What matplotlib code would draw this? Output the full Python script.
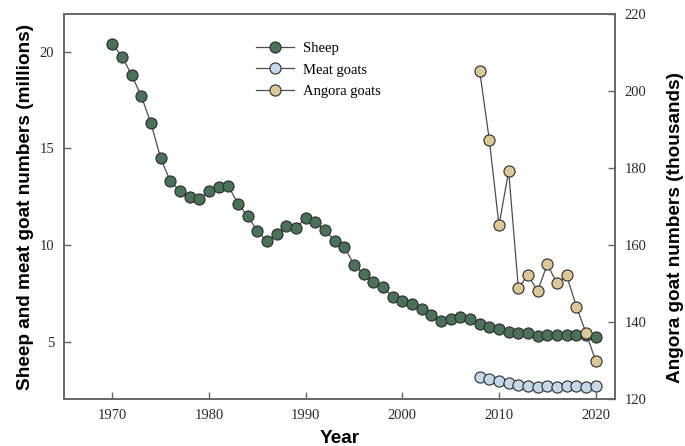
import matplotlib
matplotlib.use("Agg")
import matplotlib.pyplot as plt

years_sheep = list(range(1970, 2021))
sheep = [20.4, 19.75, 18.8, 17.7, 16.3, 14.5, 13.3, 12.8, 12.5, 12.4,
         12.8, 13.0, 13.05, 12.15, 11.5, 10.75, 10.2, 10.6, 11.0, 10.9,
         11.4, 11.2, 10.8, 10.2, 9.9, 9.0, 8.5, 8.1, 7.85, 7.3,
         7.1, 6.95, 6.68, 6.4, 6.1, 6.2, 6.28, 6.2, 5.95, 5.78,
         5.66, 5.52, 5.44, 5.44, 5.3, 5.36, 5.38, 5.38, 5.37, 5.34,
         5.27]

years_goat = list(range(2008, 2021))
meat_goats = [3.2, 3.09, 2.99, 2.89, 2.77, 2.72, 2.68, 2.71, 2.68, 2.71,
              2.71, 2.68, 2.71]
angora_goats = [205.2, 187.3, 165.1, 179.2, 148.9, 152.1, 148.1, 155.0,
                150.0, 152.1, 144.0, 137.2, 129.9]

line_col = "#4d4d4d"
spine_col = "#666666"
tick_font = {"family": "Liberation Serif", "size": 10.5}
label_font = {"family": "Liberation Sans", "size": 13.7, "weight": "bold"}
mk = dict(marker="o", markersize=8, markeredgecolor="#2b2b2b",
          markeredgewidth=0.8, color=line_col, linewidth=0.9)

fig = plt.figure(figsize=(6.85, 4.46), dpi=100)
ax = fig.add_axes([0.0934, 0.1054, 0.8044, 0.8632])
ax2 = ax.twinx()

h1, = ax.plot(years_sheep, sheep, markerfacecolor="#4b7259", label="Sheep", **mk)
h2, = ax.plot(years_goat, meat_goats, markerfacecolor="#c6d7e7", label="Meat goats", **mk)
h3, = ax2.plot(years_goat, angora_goats, markerfacecolor="#dbc89a", label="Angora goats", **mk)

ax.set_xlim(1965, 2022)
ax.set_ylim(2.05, 21.95)
ax2.set_ylim(120, 220)
ax.set_xticks([1970, 1980, 1990, 2000, 2010, 2020])
ax.set_yticks([5, 10, 15, 20])
ax2.set_yticks([120, 140, 160, 180, 200, 220])

for a in (ax, ax2):
    for s in a.spines.values():
        s.set_color(spine_col)
        s.set_linewidth(1.2)
    a.tick_params(direction="in", length=5, width=1, color=spine_col, pad=7)
    for lab in a.get_xticklabels() + a.get_yticklabels():
        lab.set_fontfamily(tick_font["family"])
        lab.set_fontsize(tick_font["size"])
        lab.set_color("#2a2a2a")

ax.set_xlabel("Year", labelpad=6, **label_font)
ax.set_ylabel("Sheep and meat goat numbers (millions)", labelpad=4, **label_font)
ax2.set_ylabel("Angora goat numbers (thousands)", **label_font)
ax2.yaxis.set_label_coords(1.095, 0.445)

ax2.legend(handles=[h1, h2, h3], loc="upper left", bbox_to_anchor=(0.355, 0.935),
           bbox_transform=fig.transFigure, frameon=False,
           prop={"family": "Liberation Serif", "size": 10.5},
           handlelength=2.6, handletextpad=0.6, labelspacing=0.55)

fig.savefig("out.png", dpi=100)
